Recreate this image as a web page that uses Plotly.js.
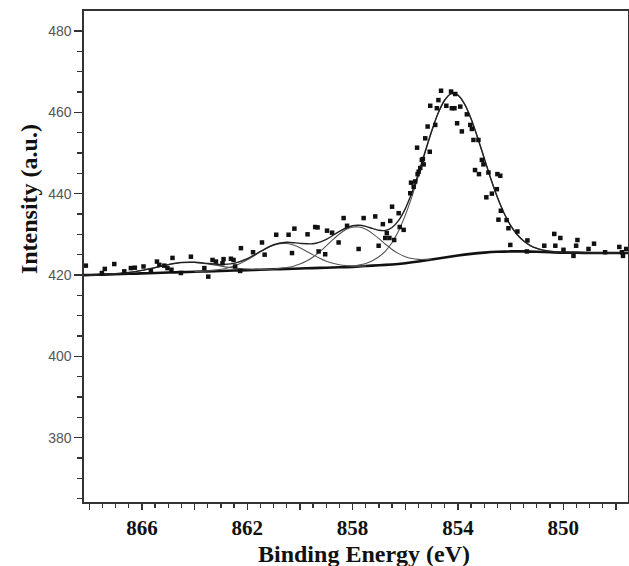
<!DOCTYPE html>
<html>
<head>
<meta charset="utf-8">
<script src="https://cdn.plot.ly/plotly-3.0.1.min.js"></script>
<style>html,body{margin:0;padding:0;background:#fff;}#chart{width:629px;height:566px;}</style>
</head>
<body>
<div id="chart"></div>
<script>
// Measured data points (binding energy eV, intensity a.u.)
var dataX = [868.13,867.52,867.41,867.05,866.67,866.42,866.27,865.94,865.66,865.43,865.34,865.15,865.03,864.88,864.84,864.52,864.14,863.63,863.48,863.32,863.19,862.94,862.90,862.62,862.52,862.46,862.27,862.24,861.78,861.44,861.34,860.90,860.43,860.30,860.21,859.71,859.42,859.33,859.29,859.04,858.97,858.78,858.53,858.34,858.21,857.77,857.58,857.14,857.01,856.85,856.76,856.70,856.60,856.57,856.50,856.42,856.25,856.21,856.06,855.81,855.78,855.68,855.62,855.55,855.53,855.49,855.43,855.37,855.33,855.30,855.24,855.15,855.07,855.05,854.86,854.80,854.74,854.64,854.44,854.26,854.23,854.13,854.10,854.03,853.91,853.85,853.66,853.53,853.47,853.41,853.35,853.22,853.20,853.09,853.03,852.92,852.84,852.71,852.52,852.50,852.46,852.39,852.37,852.15,852.08,852.01,851.74,851.38,851.36,850.72,850.34,850.30,850.11,849.99,849.61,849.51,849.46,849.04,848.83,848.41,847.87,847.77,847.73,847.61];
var dataY = [422.3,420.5,421.5,422.7,420.9,421.7,421.8,422.1,421.0,423.3,422.5,422.3,421.7,421.3,424.2,420.5,424.5,421.7,419.6,423.7,423.3,422.9,423.9,424.0,423.7,422.1,421.0,426.6,425.6,428.0,425.0,429.9,429.9,425.4,431.4,430.0,431.8,431.7,425.8,425.1,430.9,430.4,428.0,434.0,432.1,426.4,434.0,434.4,427.2,432.5,429.1,430.3,429.1,433.3,436.8,428.6,435.2,431.8,431.1,440.1,442.7,441.7,443.0,451.3,444.8,445.4,446.3,448.3,448.5,447.2,453.6,456.5,450.3,461.6,456.9,461.0,463.0,465.3,461.6,465.1,461.0,461.0,464.5,457.3,461.4,455.3,459.5,456.9,455.9,453.2,445.8,453.2,444.8,448.3,447.2,439.1,445.2,440.0,441.1,444.8,433.6,444.4,435.8,433.5,431.5,427.4,430.7,425.8,428.5,427.2,430.1,427.2,429.1,426.2,424.7,427.2,428.6,426.4,427.7,425.6,426.9,425.6,424.7,426.4];

// Background (baseline)
var bgX = [868.5,868.0,867.5,867.0,866.5,866.0,865.5,865.0,864.5,864.0,863.5,863.0,862.5,862.0,861.5,861.0,860.5,860.0,859.5,859.0,858.5,858.0,857.5,857.0,856.5,856.0,855.5,855.0,854.5,854.0,853.5,853.0,852.5,852.0,851.5,851.0,850.5,850.0,849.5,849.0,848.5,848.0,847.5];
var bgY = [419.9,420.0,420.1,420.2,420.3,420.4,420.5,420.6,420.7,420.8,420.9,421.0,421.1,421.2,421.3,421.4,421.5,421.6,421.7,421.8,421.9,422.0,422.2,422.4,422.6,422.9,423.3,423.8,424.3,424.8,425.2,425.5,425.7,425.8,425.8,425.7,425.6,425.5,425.5,425.4,425.4,425.4,425.4];

// Fitted components
var mainX = [858.0,857.5,857.25,857.0,856.75,856.5,856.25,856.0,855.75,855.5,855.25,855.0,854.75,854.5,854.25,854.0,853.75,853.5,853.25,853.0,852.75,852.5,852.25,852.0,851.75,851.5,851.25,851.0,850.75,850.5,850.0];
var mainY = [422.17,422.85,423.5,424.5,425.9,428.0,430.9,434.65,439.2,444.4,449.95,455.2,459.75,463.0,464.55,464.2,462.05,458.4,453.75,448.7,443.65,439.1,435.25,432.2,429.95,428.35,427.25,426.55,426.1,425.85,425.55];

var sat1X = [861.0,860.5,860.25,860.0,859.75,859.5,859.25,859.0,858.75,858.5,858.25,858.0,857.75,857.5,857.25,857.0,856.75,856.5,856.25,856.0,855.75,855.5,855.25,855.0];
var sat1Y = [421.48,421.83,422.17,422.68,423.42,424.42,425.69,427.15,428.68,430.09,431.17,431.75,431.79,431.25,430.24,428.94,427.56,426.28,425.26,424.51,424.07,423.85,423.84,423.95];

var sat2X = [864.0,863.5,863.25,863.0,862.75,862.5,862.25,862.0,861.75,861.5,861.25,861.0,860.75,860.5,860.25,860.0,859.75,859.5,859.25,859.0,858.75,858.5,858.25,858.0,857.5];
var sat2Y = [420.82,421.01,421.16,421.4,421.74,422.24,422.9,423.73,424.69,425.69,426.61,427.33,427.72,427.73,427.36,426.7,425.85,424.95,424.11,423.41,422.89,422.52,422.3,422.19,422.24];

var sat3X = [868.0,867.5,867.0,866.5,866.0,865.5,865.0,864.5,864.0,863.5,863.0,862.5,862.0,861.5,861.0];
var sat3Y = [420.01,420.13,420.32,420.62,421.13,421.82,422.56,423.06,423.11,422.74,422.19,421.73,421.47,421.39,421.42];

// Envelope (sum of fit)
var envX = [868.5,868.0,867.5,867.0,866.5,866.0,865.5,865.0,864.5,864.0,863.5,863.0,862.5,862.0,861.5,861.0,860.5,860.0,859.5,859.0,858.5,858.0,857.75,857.5,857.25,857.0,856.75,856.5,856.25,856.0,855.75,855.5,855.25,855.0,854.75,854.5,854.25,854.0,853.75,853.5,853.25,853.0,852.75,852.5,852.25,852.0,851.75,851.5,851.25,851.0,850.75,850.5,850.0,849.5,849.0,848.5,848.0,847.5];
var envY = [419.9,420.01,420.13,420.32,420.62,421.13,421.82,422.56,423.06,423.13,422.85,422.59,422.87,424.0,425.8,427.43,428.06,427.78,427.67,428.76,430.75,432.11,432.22,431.94,431.45,431.0,430.98,431.69,433.43,436.26,440.2,444.95,450.24,455.35,459.82,463.03,464.58,464.2,462.05,458.4,453.75,448.7,443.65,439.1,435.25,432.2,429.95,428.35,427.25,426.55,426.1,425.85,425.55,425.5,425.4,425.4,425.4,425.4];

// Axis ticks and titles
var xTickVals = [868,866,864,862,860,858,856,854,852,850,848];
var xTickText = ['','866','','862','','858','','854','','850',''];
var yTickVals = [380,400,420,440,460,480];
var yTickText = ['380','400','420','440','460','480'];
var xTitle = 'Binding Energy (eV)';
var yTitle = 'Intensity (a.u.)';

var serif = 'Liberation Serif, Times New Roman, serif';
var compLine = {color:'#555', width:1.1, shape:'spline', smoothing:0.6};
var traces = [
  {x:bgX, y:bgY, type:'scatter', mode:'lines', line:{color:'#111', width:2.6, shape:'spline', smoothing:0.6}},
  {x:sat3X, y:sat3Y, type:'scatter', mode:'lines', line:compLine},
  {x:sat2X, y:sat2Y, type:'scatter', mode:'lines', line:compLine},
  {x:sat1X, y:sat1Y, type:'scatter', mode:'lines', line:compLine},
  {x:mainX, y:mainY, type:'scatter', mode:'lines', line:compLine},
  {x:envX, y:envY, type:'scatter', mode:'lines', line:{color:'#222', width:1.4, shape:'spline', smoothing:0.6}},
  {x:dataX, y:dataY, type:'scatter', mode:'markers', marker:{symbol:'square', size:4.5, color:'#111', line:{width:0}}}
];

var layout = {
  width:629, height:566,
  margin:{l:84, r:1, t:11, b:64},
  paper_bgcolor:'#fff', plot_bgcolor:'#fff',
  showlegend:false,
  xaxis:{
    range:[868.2, 847.54],
    tickmode:'array', tickvals:xTickVals, ticktext:xTickText,
    ticks:'outside', ticklen:6, tickwidth:1.4, tickcolor:'#333',
    minor:{tickmode:'linear', tick0:848, dtick:0.5, ticks:'outside', ticklen:4, tickwidth:1.2, tickcolor:'#333', showgrid:false},
    showline:true, linecolor:'#333', linewidth:1.6, mirror:true,
    showgrid:false, zeroline:false,
    tickfont:{family:serif, size:21, color:'#111', weight:'bold'}
  },
  yaxis:{
    range:[364.2, 484.9],
    tickmode:'array', tickvals:yTickVals, ticktext:yTickText,
    ticks:'outside', ticklen:8, tickwidth:1.4, tickcolor:'#333',
    minor:{tickmode:'linear', tick0:380, dtick:5, ticks:'outside', ticklen:5, tickwidth:1.2, tickcolor:'#333', showgrid:false},
    showline:true, linecolor:'#333', linewidth:1.6, mirror:true,
    showgrid:false, zeroline:false,
    tickfont:{family:'Liberation Sans, Arial, sans-serif', size:14, color:'#555'}
  },
  annotations:[
    {text:xTitle, xref:'paper', yref:'paper', x:0.515, y:-0.106, xanchor:'center', yanchor:'middle', showarrow:false,
     font:{family:serif, size:24, color:'#111', weight:'bold'}},
    {text:yTitle, xref:'paper', yref:'paper', x:-0.101, y:0.617, xanchor:'center', yanchor:'middle', textangle:-90, showarrow:false,
     font:{family:serif, size:24, color:'#111', weight:'bold'}}
  ]
};

Plotly.newPlot('chart', traces, layout, {displayModeBar:false, staticPlot:true});
</script>
</body>
</html>
